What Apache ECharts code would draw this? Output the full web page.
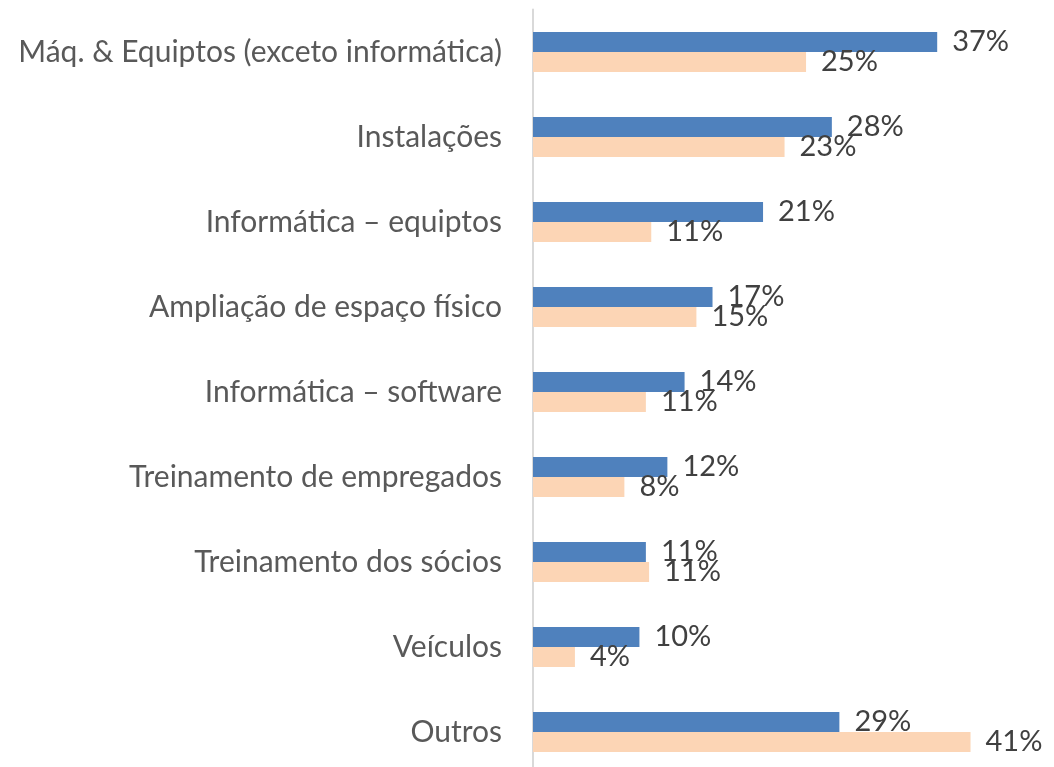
<!DOCTYPE html>
<html>
<head>
<meta charset="utf-8">
<script src="https://cdn.jsdelivr.net/npm/echarts@6/dist/echarts.min.js"></script>
<style>
  html, body { margin: 0; padding: 0; background: #fff; }
  #chart { width: 1054px; height: 767px; }
</style>
</head>
<body>
<div id="chart"></div>
<script>
  // categories, top to bottom
  var categories = [
    'Máq. & Equiptos (exceto informática)',
    'Instalações',
    'Informática – equiptos',
    'Ampliação de espaço físico',
    'Informática – software',
    'Treinamento de empregados',
    'Treinamento dos sócios',
    'Veículos',
    'Outros'
  ];
  // bar lengths (%)
  var blueValues = [37.6, 27.8, 21.4, 16.7, 14.1, 12.5, 10.5, 9.9, 28.5];
  var peachValues = [25.4, 23.4, 11.0, 15.2, 10.5, 8.5, 10.8, 3.9, 40.7];
  // printed labels
  var blueLabels = ['37%', '28%', '21%', '17%', '14%', '12%', '11%', '10%', '29%'];
  var peachLabels = ['25%', '23%', '11%', '15%', '11%', '8%', '11%', '4%', '41%'];

  var myChart = echarts.init(document.getElementById('chart'));

  var labelStyle = {
    show: true,
    position: 'right',
    distance: 15,
    fontFamily: 'Lato',
    fontSize: 29,
    color: '#404040'
  };

  var option = {
    animation: false,
    grid: {
      left: 533,
      top: 9.5,
      height: 765,
      width: 537.5,
      outerBoundsMode: 'none',
      containLabel: false
    },
    xAxis: {
      type: 'value',
      min: 0,
      max: 50,
      show: false,
      splitLine: { show: false }
    },
    yAxis: {
      type: 'category',
      data: categories,
      inverse: true,
      axisTick: { show: false },
      axisLine: {
        show: true,
        lineStyle: { color: '#d9d9d9', width: 2 }
      },
      axisLabel: {
        margin: 31,
        fontFamily: 'Lato',
        fontSize: 30,
        color: '#595959'
      }
    },
    series: [
      {
        type: 'bar',
        data: blueValues,
        barWidth: 20,
        barGap: '0%',
        itemStyle: { color: '#4f81bd' },
        label: Object.assign({}, labelStyle, {
          formatter: function (p) { return blueLabels[p.dataIndex]; }
        })
      },
      {
        type: 'bar',
        data: peachValues,
        barWidth: 20,
        barGap: '0%',
        itemStyle: { color: '#fcd5b5' },
        label: Object.assign({}, labelStyle, {
          formatter: function (p) { return peachLabels[p.dataIndex]; }
        })
      }
    ]
  };

  myChart.setOption(option);
</script>
</body>
</html>
